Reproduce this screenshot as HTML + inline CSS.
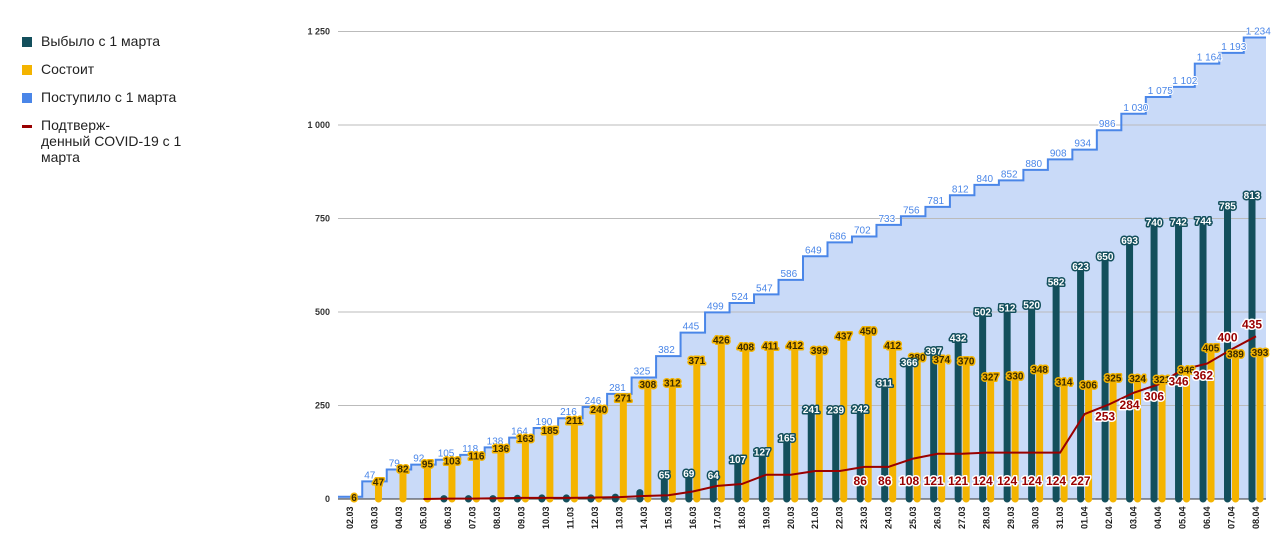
<!DOCTYPE html>
<html><head><meta charset="utf-8"><style>
body{margin:0;background:#fff;width:1280px;height:534px;overflow:hidden;font-family:"Liberation Sans",sans-serif}
.leg{position:absolute;left:22px;font-size:14px;color:#222}
.sw{position:absolute;left:0;top:4px;width:10px;height:10px}
</style></head><body>
<div>
<div class="leg" style="top:33px"><span class="sw" style="background:#134f5c"></span><span style="margin-left:19px">Выбыло с 1 марта</span></div>
<div class="leg" style="top:61px"><span class="sw" style="background:#f4b400"></span><span style="margin-left:19px">Состоит</span></div>
<div class="leg" style="top:89px"><span class="sw" style="background:#4a86e8"></span><span style="margin-left:19px">Поступило с 1 марта</span></div>
<div class="leg" style="top:117px;line-height:16px"><span class="sw" style="background:#990000;height:3px;top:8px"></span><div style="margin-left:19px">Подтверж-<br>денный COVID-19 с 1<br>марта</div></div>
</div>
<svg id="chart" width="1280" height="534" style="position:absolute;left:0;top:0"></svg>
<script>
const dates=["02.03","03.03","04.03","05.03","06.03","07.03","08.03","09.03","10.03","11.03","12.03","13.03","14.03","15.03","16.03","17.03","18.03","19.03","20.03","21.03","22.03","23.03","24.03","25.03","26.03","27.03","28.03","29.03","30.03","31.03","01.04","02.04","03.04","04.04","05.04","06.04","07.04","08.04"];
const admitted=[6,47,79,92,105,118,138,164,190,216,246,281,325,382,445,499,524,547,586,649,686,702,733,756,781,812,840,852,880,908,934,986,1030,1075,1102,1164,1193,1234];
const current=[6,47,82,95,103,116,136,163,185,211,240,271,308,312,371,426,408,411,412,399,437,450,412,380,374,370,327,330,348,314,306,325,324,321,346,405,389,393];
const discharged=[0,0,0,0,1,1,1,2,3,3,3,5,17,65,69,64,107,127,165,241,239,242,311,366,397,432,502,512,520,582,623,650,693,740,742,744,785,813];
const covid=[null,null,null,0,1,1,2,3,3,3,4,5,8,10,20,35,40,65,65,75,75,86,86,108,121,121,124,124,124,124,227,253,284,306,346,362,400,435];
const yTicks=[0,250,500,750,1000,1250];
const labeledCovid=[21,22,23,24,25,26,27,28,29,30,31,32,33,34,35,36,37];
const svg=document.getElementById('chart');const NS='http://www.w3.org/2000/svg';
const X0=350,DX=(1256-350)/37,Y0=499,KY=93.5/250;
const x=i=>X0+i*DX, y=v=>Y0-v*KY;
function el(t,a,p){const e=document.createElementNS(NS,t);for(const k in a)e.setAttribute(k,a[k]);(p||svg).appendChild(e);return e;}
const fmt=v=>v>=1000?Math.floor(v/1000)+" "+String(v%1000).padStart(3,"0"):String(v);
// area + step line
let d="M338,"+y(0),ln="M338,"+y(admitted[0]);
admitted.forEach((v,i)=>{const l=i==0?338:x(i)-DX/2,r=i==37?1266:x(i)+DX/2;d+=" L"+l+","+y(v)+" L"+r+","+y(v);ln+=" L"+l+","+y(v)+" L"+r+","+y(v);});
d+=" L1266,"+y(0)+" Z";
const area=el('path',{d:d,fill:'#c9daf8'});


// grid
yTicks.forEach(t=>{const g=el('line',{x1:338,x2:1266,y1:y(t),y2:y(t),stroke:t==0?'#333':'#bbb','stroke-width':1});


const tl=el('text',{x:330,y:y(t)+3,'text-anchor':'end','font-size':9,'font-weight':'bold',fill:'#333'});tl.textContent=fmt(t);

});
const sl=el('path',{d:ln,fill:'none',stroke:'#4a86e8','stroke-width':2});


// bars
dates.forEach((dt,i)=>{
 const cx=x(i);
 if(discharged[i]>0){const b=el('line',{x1:cx-4,x2:cx-4,y1:Y0,y2:y(discharged[i]),stroke:'#134f5c','stroke-width':7,'stroke-linecap':'round'});
 
 }
 const c=el('line',{x1:cx+4,x2:cx+4,y1:Y0,y2:y(current[i]),stroke:'#f4b400','stroke-width':7,'stroke-linecap':'round'});
 
 
 const xl=el('text',{transform:`translate(${cx+3},${529}) rotate(-90)`,'font-size':9,'font-weight':'bold',fill:'#222'});xl.textContent=dt;
 
 
});
// covid line
let cp="";covid.forEach((v,i)=>{if(v!==null)cp+=(cp?" L":"M")+x(i)+","+y(v);});
const cl=el('path',{d:cp,fill:'none',stroke:'#990000','stroke-width':2});


// labels
function lab(tx,ty,txt,fill,stroke,size,name){const t=el('text',{x:tx,y:ty,'text-anchor':'middle','font-size':size,'font-weight':'bold',fill:fill,stroke:stroke,'stroke-width':3,'paint-order':'stroke','stroke-linejoin':'round'});t.textContent=txt;

}
dates.forEach((dt,i)=>{
 const cx=x(i);
 if(i>0){const t=el('text',{x:cx-DX/2+2,y:y(admitted[i])-3,'font-size':10,fill:'#4a86e8',stroke:'#fff','stroke-width':2,'paint-order':'stroke'});t.textContent=fmt(admitted[i]);
 
 }
 lab(cx+4,y(current[i])+4,String(current[i]),'#3a2a00','#f4b400',10,'current-label');
 if(i>=13)lab(cx-4,y(discharged[i])+4,String(discharged[i]),'#fff','#134f5c',10,'discharged-label');
});
labeledCovid.forEach(i=>{const v=covid[i];const ly=i<31?Y0-14:y(v)+(i>=36?-8:16);lab(x(i)-4,ly,String(v),'#990000','#fff',12,'covid-label');});
</script>
</body></html>
